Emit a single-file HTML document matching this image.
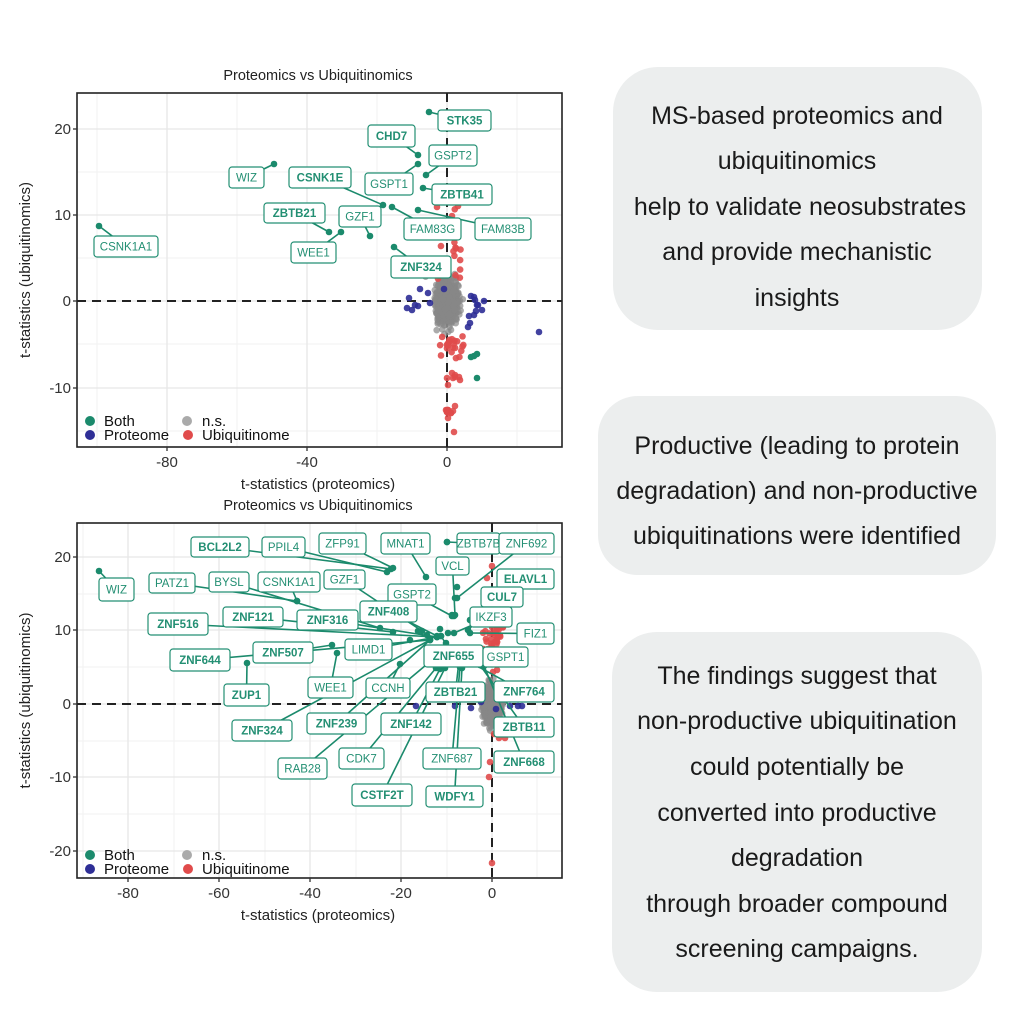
<!DOCTYPE html>
<html><head><meta charset="utf-8"><style>
html,body{margin:0;padding:0;background:#fff;}
svg{display:block;font-family:"Liberation Sans",Arial,sans-serif;}
</style></head><body>
<svg id="s" width="1024" height="1024" viewBox="0 0 1024 1024" xmlns="http://www.w3.org/2000/svg">
<rect width="1024" height="1024" fill="#fff"/>
<rect x="613" y="67" width="369" height="263" rx="45" fill="#eceeee"/>
<rect x="598" y="396" width="398" height="179" rx="40" fill="#eceeee"/>
<rect x="612" y="632" width="370" height="360" rx="45" fill="#eceeee"/>
<g font-size="25" fill="#1a1a1a" text-anchor="middle">
<text x="797" y="124">MS-based proteomics and</text>
<text x="797" y="169">ubiquitinomics</text>
<text x="800" y="215">help to validate neosubstrates</text>
<text x="797" y="260">and provide mechanistic</text>
<text x="797" y="306">insights</text>
<text x="797" y="454">Productive (leading to protein</text>
<text x="797" y="499">degradation) and non-productive</text>
<text x="797" y="544">ubiquitinations were identified</text>
<text x="797" y="684">The findings suggest that</text>
<text x="797" y="729">non-productive ubiquitination</text>
<text x="797" y="775">could potentially be</text>
<text x="797" y="821">converted into productive</text>
<text x="797" y="866">degradation</text>
<text x="797" y="912">through broader compound</text>
<text x="797" y="957">screening campaigns.</text>
</g>
<g id="charts"></g>
</svg>
<script>
(function(){
var NS="http://www.w3.org/2000/svg",g=document.getElementById("charts");
function el(t,a,txt,p){var e=document.createElementNS(NS,t);for(var k in a)e.setAttribute(k,a[k]);if(txt!=null)e.textContent=txt;(p||g).appendChild(e);return e;}
var seed=7;function r(){seed=(seed*16807)%2147483647;return seed/2147483647;}
function gauss(){return Math.sqrt(-2*Math.log(r()+1e-9))*Math.cos(2*Math.PI*r());}
var GR="#1b8a6c",BL="#2e2e96",RD="#e04b4b",GY="#9a9a9a",LT="#238f73";
function chart(o){
 var L=77,R=562,T=o.T,B=o.B;
 el("rect",{x:L,y:T,width:R-L,height:B-T,fill:"#fff"});
 o.minX.forEach(function(x){el("line",{x1:x,x2:x,y1:T,y2:B,stroke:"#f2f2f2","stroke-width":1});});
 o.minY.forEach(function(y){el("line",{x1:L,x2:R,y1:y,y2:y,stroke:"#f2f2f2","stroke-width":1});});
 o.xt.forEach(function(t){el("line",{x1:t[0],x2:t[0],y1:T,y2:B,stroke:"#e6e6e6","stroke-width":1.3});});
 o.yt.forEach(function(t){el("line",{x1:L,x2:R,y1:t[0],y2:t[0],stroke:"#e6e6e6","stroke-width":1.3});});
 el("line",{x1:L,x2:R,y1:o.y0,y2:o.y0,stroke:"#222","stroke-width":2,"stroke-dasharray":"9,6"});
 el("line",{x1:o.x0,x2:o.x0,y1:T,y2:B,stroke:"#222","stroke-width":2,"stroke-dasharray":"9,6"});
 var i;
 for(i=0;i<900;i++){var x=o.x0+gauss()*o.cx,y=o.y0+gauss()*o.cy;el("circle",{cx:x,cy:y,r:3.3,fill:"#888","fill-opacity":0.7});}
 o.red.forEach(function(p){el("circle",{cx:p[0],cy:p[1],r:3.3,fill:RD,"fill-opacity":0.9});});
 o.blue.forEach(function(p){el("circle",{cx:p[0],cy:p[1],r:3.3,fill:BL,"fill-opacity":0.9});});
 o.green.forEach(function(p){el("circle",{cx:p[0],cy:p[1],r:3.3,fill:GR});});
 o.labels.forEach(function(l){var cx=(l[0]+l[2])/2,cy=(l[1]+l[3])/2;
   el("line",{x1:cx,y1:cy,x2:l[6],y2:l[7],stroke:GR,"stroke-width":1.6});
   el("circle",{cx:l[6],cy:l[7],r:3.3,fill:GR});});
 o.labels.forEach(function(l){
   el("rect",{x:l[0],y:l[1],width:l[2]-l[0],height:l[3]-l[1],rx:3,fill:"#fff",stroke:LT,"stroke-width":1.2});
   el("text",{x:(l[0]+l[2])/2,y:(l[1]+l[3])/2+4,"text-anchor":"middle","font-size":11.5,"font-weight":l[5]?"bold":"normal",fill:LT},l[4]);});
 el("rect",{x:L,y:T,width:R-L,height:B-T,fill:"none",stroke:"#222","stroke-width":1.6});
 o.xt.forEach(function(t){el("line",{x1:t[0],x2:t[0],y1:B,y2:B+4,stroke:"#333","stroke-width":1.3});
   el("text",{x:t[0],y:B+20,"text-anchor":"middle","font-size":15,fill:"#333"},t[1]);});
 o.yt.forEach(function(t){el("line",{x1:L-4,x2:L,y1:t[0],y2:t[0],stroke:"#333","stroke-width":1.3});
   el("text",{x:L-6,y:t[0]+5,"text-anchor":"end","font-size":15,fill:"#333"},t[1]);});
 el("text",{x:318,y:T-13,"text-anchor":"middle","font-size":14.5,fill:"#222"},"Proteomics vs Ubiquitinomics");
 el("text",{x:318,y:B+42,"text-anchor":"middle","font-size":15,fill:"#222"},"t-statistics (proteomics)");
 var yc=(T+B)/2;
 el("text",{x:30,y:yc,"text-anchor":"middle","font-size":15,fill:"#222",transform:"rotate(-90 30 "+yc+")"},"t-statistics (ubiquitinomics)");
 var ly=o.ly;
 el("circle",{cx:90,cy:ly,r:5,fill:GR});el("text",{x:104,y:ly+5,"font-size":15,fill:"#111"},"Both");
 el("circle",{cx:187,cy:ly,r:5,fill:"#aaa"});el("text",{x:202,y:ly+5,"font-size":15,fill:"#111"},"n.s.");
 el("circle",{cx:90,cy:ly+14,r:5,fill:BL});el("text",{x:104,y:ly+19,"font-size":15,fill:"#111"},"Proteome");
 el("circle",{cx:188,cy:ly+14,r:5,fill:RD});el("text",{x:202,y:ly+19,"font-size":15,fill:"#111"},"Ubiquitinome");
}
function rnd(n,x0,x1,y0,y1){var a=[];for(var i=0;i<n;i++)a.push([x0+r()*(x1-x0),y0+r()*(y1-y0)]);return a;}
chart({T:93,B:447,x0:447,y0:301,cx:5,cy:10,ly:421,
 minX:[97,237,377,517],minY:[172,258,344,431],
 xt:[[167,"-80"],[307,"-40"],[447,"0"]],yt:[[129,"20"],[215,"10"],[301,"0"],[388,"-10"]],
 red:rnd(22,438,462,205,285).concat(rnd(22,438,465,335,360)).concat([[455,375],[460,380],[452,373],[448,385],[459,377],[453,378],[447,378],[455,377],[448,410],[451,413],[455,406],[453,411],[448,410],[447,412],[446,410],[447,412],[454,432],[448,418],[451,413],[447,410],[458,206],[437,207],[452,216]]),
 blue:[[409,298],[418,306],[412,310],[407,308],[420,289],[428,293],[430,303],[444,289],[471,296],[474,297],[484,301],[469,316],[470,323],[468,327],[474,315],[478,305],[482,310],[476,311],[539,332],[475,300],[477,305],[415,305]],
 green:[[471,357],[474,356],[477,354],[477,378]],
 labels:[[438,110,491,131,"STK35",1,429,112],[368,125,415,147,"CHD7",1,418,155],[429,145,477,166,"GSPT2",0,426,175],
 [229,167,264,188,"WIZ",0,274,164],[289,167,351,188,"CSNK1E",1,383,205],[365,173,413,195,"GSPT1",0,418,164],
 [432,184,492,205,"ZBTB41",1,423,188],[264,203,325,223,"ZBTB21",1,329,232],[339,206,381,227,"GZF1",0,370,236],
 [404,218,461,240,"FAM83G",0,392,207],[475,218,531,240,"FAM83B",0,418,210],[94,236,158,257,"CSNK1A1",0,99,226],
 [291,242,336,263,"WEE1",0,341,232],[391,256,451,278,"ZNF324",1,394,247]]});
var c1=[437,637],c2=[430,640];
chart({T:523,B:878,x0:492,y0:704,cx:4,cy:8,ly:855,
 minX:[83,174,265,356,447,537],minY:[594,667,741,814],
 xt:[[128,"-80"],[219,"-60"],[310,"-40"],[401,"-20"],[492,"0"]],yt:[[557,"20"],[630,"10"],[704,"0"],[777,"-10"],[851,"-20"]],
 red:rnd(30,483,505,625,650).concat([[492,566],[487,578],[494,734],[499,738],[505,738],[490,762],[489,777],[492,863],[496,660],[497,670],[493,672]]),
 blue:[[416,706],[455,706],[471,708],[510,706],[518,706],[522,706],[496,709],[481,702]],
 green:[[447,542],[457,587],[455,598],[452,615],[454,616],[448,633],[441,636],[440,629],[418,631],[427,635],[410,640],[432,650],[446,643],[470,651],[480,655],[500,660]],
 labels:[[191,537,249,557,"BCL2L2",1,391,569],[262,537,305,557,"PPIL4",0,387,572],[319,533,366,554,"ZFP91",0,393,568],
 [381,533,430,554,"MNAT1",0,426,577],[457,533,500,554,"ZBTB7B",0,447,542],[499,533,554,554,"ZNF692",0,457,598],
 [99,578,134,601,"WIZ",0,99,571],[149,573,195,593,"PATZ1",0,297,601],[209,572,249,592,"BYSL",0,380,628],
 [258,572,320,592,"CSNK1A1",0,297,601],[324,570,365,589,"GZF1",0,422,631],[436,557,469,575,"VCL",0,455,615],
 [497,569,554,589,"ELAVL1",1,470,620],[388,584,436,605,"GSPT2",0,452,616],[481,587,523,607,"CUL7",1,468,630],
 [360,601,417,622,"ZNF408",1,437,636],[470,607,512,627,"IKZF3",0,454,633],[148,613,208,635,"ZNF516",1,c1[0],c1[1]],
 [223,607,283,627,"ZNF121",1,393,632],[297,610,358,630,"ZNF316",1,c1[0],c1[1]],[517,623,554,644,"FIZ1",0,470,633],
 [170,649,230,671,"ZNF644",1,c2[0],c2[1]],[253,642,313,663,"ZNF507",1,332,645],[345,639,392,660,"LIMD1",0,c1[0],c1[1]],
 [424,645,483,667,"ZNF655",1,441,636],[483,647,528,667,"GSPT1",0,478,655],[224,684,269,706,"ZUP1",1,247,663],
 [308,677,353,698,"WEE1",0,337,653],[366,678,410,698,"CCNH",0,400,664],[426,682,485,702,"ZBTB21",1,460,652],
 [494,681,554,702,"ZNF764",1,466,660],[232,720,292,741,"ZNF324",1,c2[0],c2[1]],[307,713,366,734,"ZNF239",1,c2[0],c2[1]],
 [381,713,441,735,"ZNF142",1,440,669],[494,717,554,737,"ZBTB11",1,480,665],[278,758,327,779,"RAB28",0,432,660],
 [339,748,384,769,"CDK7",0,436,668],[423,748,481,769,"ZNF687",0,460,667],[494,751,554,773,"ZNF668",1,484,666],
 [352,784,412,806,"CSTF2T",1,445,668],[426,786,483,807,"WDFY1",1,462,668]]});
})();
</script>
</body></html>
